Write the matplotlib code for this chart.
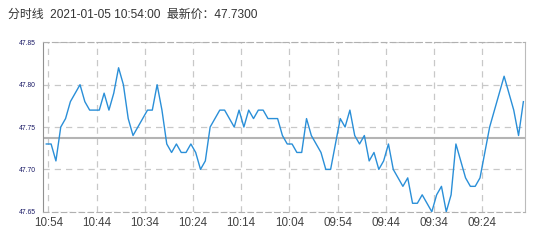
import numpy as np
import matplotlib
matplotlib.use("Agg")
import matplotlib.pyplot as plt

plt.rcParams['font.family'] = ['Liberation Sans', 'Noto Sans CJK SC', 'DejaVu Sans']

# minute prices, newest first (10:54 back to 09:15)
prices = [47.73, 47.73, 47.71, 47.75, 47.76, 47.78, 47.79, 47.80, 47.78, 47.77,
          47.77, 47.77, 47.79, 47.77, 47.79, 47.82, 47.80, 47.76, 47.74, 47.75,
          47.76, 47.77, 47.77, 47.80, 47.77, 47.73, 47.72, 47.73, 47.72, 47.72,
          47.73, 47.72, 47.70, 47.71, 47.75, 47.76, 47.77, 47.77, 47.76, 47.75,
          47.77, 47.75, 47.77, 47.76, 47.77, 47.77, 47.76, 47.76, 47.76, 47.74,
          47.73, 47.73, 47.72, 47.72, 47.76, 47.74, 47.73, 47.72, 47.70, 47.70,
          47.73, 47.76, 47.75, 47.77, 47.74, 47.73, 47.74, 47.71, 47.72, 47.70,
          47.71, 47.73, 47.70, 47.69, 47.68, 47.69, 47.66, 47.66, 47.67, 47.66,
          47.65, 47.67, 47.68, 47.65, 47.67, 47.73, 47.71, 47.69, 47.68, 47.68,
          47.69, 47.72, 47.75, 47.77, 47.79, 47.81, 47.79, 47.77, 47.74, 47.78]
tick_labels = ["10:54", "10:44", "10:34", "10:24", "10:14", "10:04",
               "09:54", "09:44", "09:34", "09:24"]
y_ticks = [47.65, 47.70, 47.75, 47.80, 47.85]
ref_price = 47.737
title = "分时线  2021-01-05 10:54:00  最新价：47.7300"

x = np.arange(len(prices))
tick_pos = np.arange(len(tick_labels)) * 10 + 0.45

fig = plt.figure(figsize=(5.41, 2.42), dpi=100)
ax = fig.add_axes([0.0795, 0.125, 0.8915, 0.70])

ax.plot(x, prices, color='#2a8fd8', lw=1.0, zorder=3)
ax.axhline(ref_price, color='#b4b4b4', lw=1.5, zorder=2)

ax.set_xlim(-0.68, 99.4)
ax.set_ylim(47.65, 47.85)
ax.set_xticks(tick_pos)
ax.set_xticklabels(tick_labels, fontsize=8.4, color='#444444')
ax.set_yticks(y_ticks)
ax.set_yticklabels([f"{v:.2f}" for v in y_ticks], fontsize=4.9, color='#1a1a66')
ax.tick_params(length=0, pad=4)
ax.tick_params(axis='y', pad=5)

ax.grid(True, color='#c8c8c8', ls=(0, (5, 4)), lw=0.9)
for side in ['top', 'bottom']:
    ax.spines[side].set_color('#b0b0b0')
    ax.spines[side].set_linestyle((0, (5, 3)))
ax.spines['left'].set_color('#909090')
ax.spines['right'].set_color('#bbbbbb')

fig.text(8 / 541, 1 - 15 / 242, title, fontsize=8.6, color='#333333',
         va='center', ha='left')

fig.savefig("out.png", dpi=100)
